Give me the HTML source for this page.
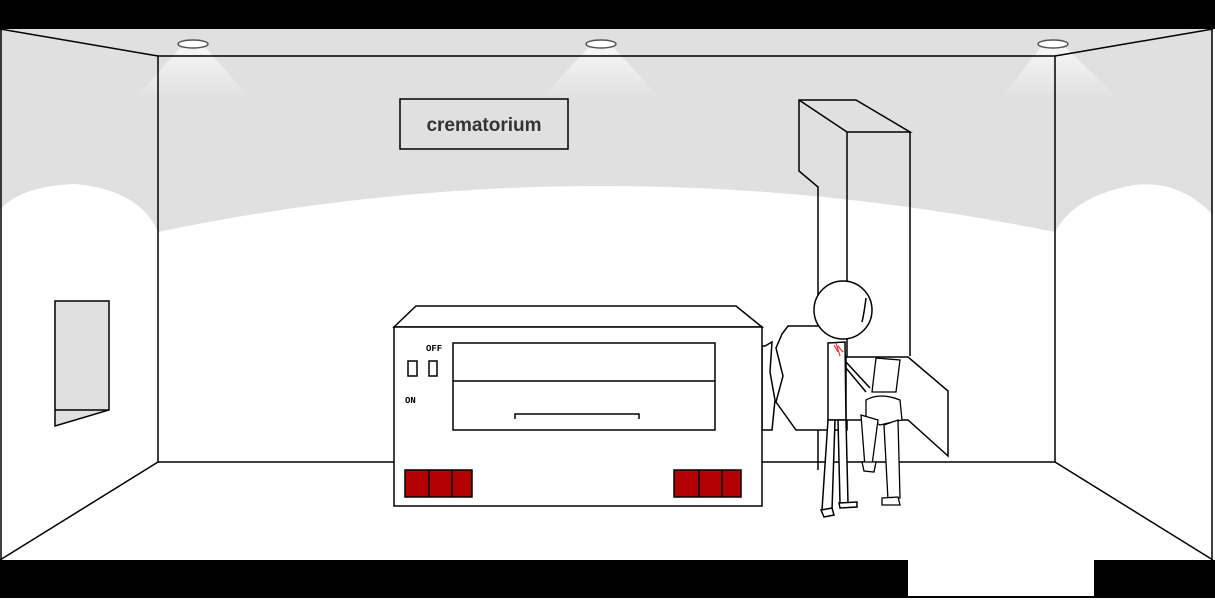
<!DOCTYPE html>
<html><head><meta charset="utf-8"><style>
html,body{margin:0;padding:0;background:#fff;}
svg{display:block;}
</style></head><body>
<svg width="1215" height="600" viewBox="0 0 1215 600" xmlns="http://www.w3.org/2000/svg">
<defs>
<linearGradient id="cone" x1="0" y1="0" x2="0" y2="1">
<stop offset="0" stop-color="#fff" stop-opacity="0.7"/><stop offset="1" stop-color="#fff" stop-opacity="0"/>
</linearGradient>
</defs>
<rect width="1215" height="600" fill="#fff"/>
<path d="M0,29 H1213 V215 Q1180,180 1135,185 Q1075,195 1055,232 V232 Q600,140 158,232 Q140,190 75,184 Q20,186 0,210 Z" fill="#e0e0e0"/>
<polygon points="180,48 206,48 252,100 134,100" fill="url(#cone)"/>
<polygon points="588,48 614,48 662,100 540,100" fill="url(#cone)"/>
<polygon points="1040,48 1066,48 1120,100 1000,100" fill="url(#cone)"/>
<rect x="0" y="0" width="1215" height="29" fill="#000"/>
<g stroke="#000" stroke-width="1.5" fill="none">
<rect x="158" y="56" width="897" height="406"/>
<line x1="0" y1="29" x2="158" y2="56"/>
<line x1="1213" y1="29" x2="1055" y2="56"/>
<line x1="158" y1="462" x2="0" y2="560"/>
<line x1="1055" y1="462" x2="1213" y2="560"/>
<line x1="1" y1="29" x2="1" y2="560"/>
<line x1="1212" y1="29" x2="1212" y2="560"/>
</g>
<g fill="#fff" stroke="#555" stroke-width="1.5">
<ellipse cx="193" cy="44" rx="15" ry="4"/>
<ellipse cx="601" cy="44" rx="15" ry="4"/>
<ellipse cx="1053" cy="44" rx="15" ry="4"/>
</g>
<rect x="400" y="99" width="168" height="50" fill="#e0e0e0" stroke="#000" stroke-width="1.5"/>
<text x="484" y="131" text-anchor="middle" font-family="Liberation Sans, sans-serif" font-weight="bold" font-size="19" fill="#333">crematorium</text>
<polygon points="55,301 109,301 109,410 55,426" fill="#e0e0e0" stroke="#000" stroke-width="1.5"/>
<line x1="55" y1="410" x2="109" y2="410" stroke="#000" stroke-width="1.5"/>
<g stroke="#000" stroke-width="1.5" fill="none">
<polyline points="818,470 818,187 799,171 799,100 856,100 910,132 847,132 799,100"/>
<line x1="847" y1="132" x2="847" y2="290"/>
<line x1="910" y1="132" x2="910" y2="356"/>
</g>
<g stroke="#000" stroke-width="1.5" fill="#fff">
<polygon points="788,326 847,326 847,430 796,430 776,402 783,376 776,348 782,334"/>
<polygon points="765,346 772,342 770,372 775,400 772,430 762,430 762,346"/>
<polygon points="846,357 908,357 948,391 948,456 908,420 846,420"/>
</g>
<g stroke="#000" stroke-width="1.5">
<polygon points="394,327 416,306 736,306 762,327" fill="#fff"/>
<rect x="394" y="327" width="368" height="179" fill="#fff"/>
<rect x="453" y="343" width="262" height="87" fill="#fff"/>
<line x1="453" y1="381" x2="715" y2="381"/>
<polyline points="515,419 515,414 639,414 639,419" fill="none"/>
<rect x="408" y="361" width="9" height="15" fill="#fff"/>
<rect x="429" y="361" width="8" height="15" fill="#fff"/>
<rect x="405" y="470" width="67" height="27" fill="#b30000"/>
<line x1="429" y1="470" x2="429" y2="497"/><line x1="452" y1="470" x2="452" y2="497"/>
<rect x="674" y="470" width="67" height="27" fill="#b30000"/>
<line x1="699" y1="470" x2="699" y2="497"/><line x1="722" y1="470" x2="722" y2="497"/>
</g>
<text x="426" y="351" font-family="Liberation Mono, monospace" font-weight="bold" font-size="9" fill="#000">OFF</text>
<text x="405" y="403" font-family="Liberation Mono, monospace" font-weight="bold" font-size="9" fill="#000">ON</text>
<g stroke="#000" stroke-width="1.3" fill="#fff">
<path d="M876,358 L872,392 L896,392 L900,360 Z"/>
<path d="M866,400 Q880,392 900,400 L902,420 L880,425 L866,418 Z"/>
<path d="M861,415 L878,420 L872,465 L865,467 Z"/>
<path d="M884,425 L898,420 L900,498 L888,500 Z"/>
<path d="M882,498 L898,497 L900,505 L882,505 Z"/>
<path d="M862,462 L876,462 L874,472 L864,471 Z"/>
</g>
<g stroke="#000" stroke-width="1.5" fill="#fff">
<path d="M828,343 L845,342 L846,420 L828,420 Z"/>
<line x1="846" y1="362" x2="870" y2="388" />
<line x1="846" y1="368" x2="866" y2="392" />
<path d="M828,420 L835,420 L832,510 L822,510 Z"/>
<path d="M838,420 L846,420 L848,503 L840,503 Z"/>
<path d="M821,510 L832,508 L834,515 L824,517 Z"/>
<path d="M839,503 L857,502 L857,507 L840,508 Z"/>
<circle cx="843" cy="310" r="29"/>
<path d="M866,298 Q864,314 862,322" fill="none"/>
</g>
<path d="M834,345 L838,352 M836,343 L840,356 M838,346 L843,352" stroke="#e33" stroke-width="1.2" fill="none"/>
<rect x="0" y="560" width="908" height="38" fill="#000"/>
<rect x="1094" y="560" width="121" height="38" fill="#000"/>
<line x1="908" y1="597" x2="1094" y2="597" stroke="#000" stroke-width="2"/>
</svg>
</body></html>
